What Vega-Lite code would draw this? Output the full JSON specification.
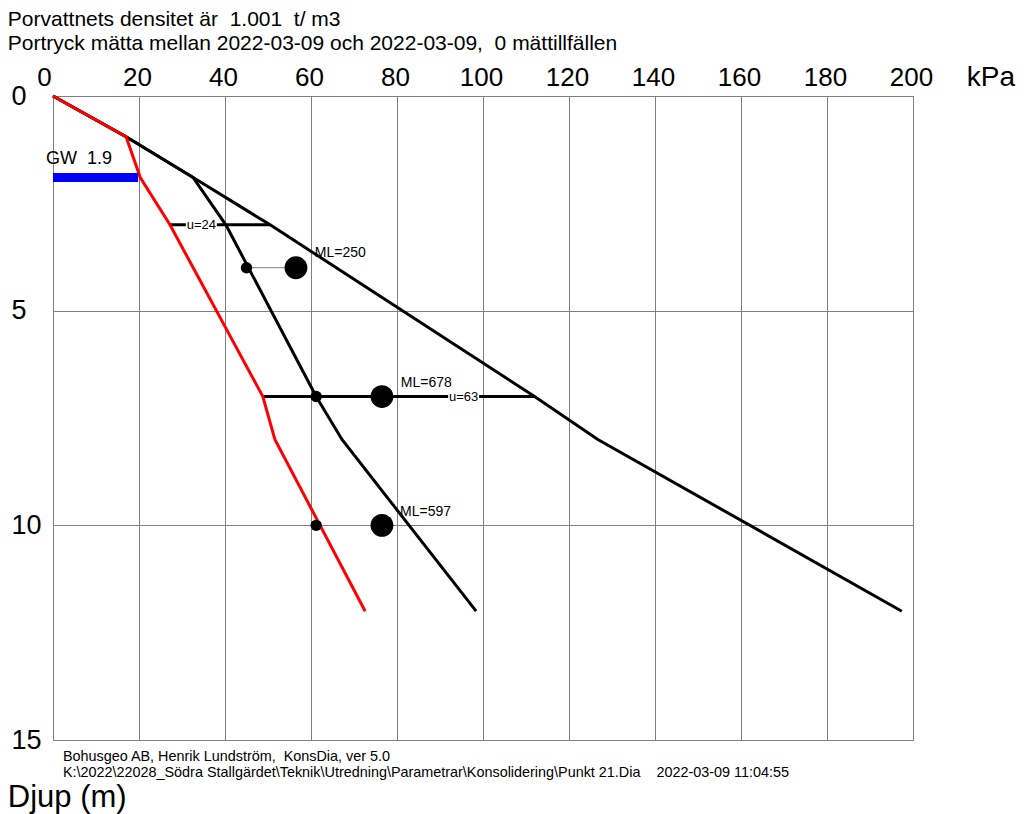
{
  "$schema": "https://vega.github.io/schema/vega-lite/v6.json",
  "width": 860,
  "height": 644,
  "autosize": {"type": "none"},
  "padding": {"left": 53, "top": 96, "right": 111, "bottom": 74},
  "background": "white",
  "config": {
    "view": {"stroke": "#808080", "strokeWidth": 1},
    "font": "Liberation Sans",
    "axis": {"gridColor": "#808080", "gridOpacity": 1, "gridWidth": 1, "domain": false, "ticks": false, "labelColor": "black", "labelFont": "Liberation Sans", "title": null}
  },
  "datasets": {
    "lines": [
      {"s": "b1", "o": 0, "kpa": 0, "d": 0},
      {"s": "b1", "o": 1, "kpa": 17, "d": 0.95},
      {"s": "b1", "o": 2, "kpa": 32.6, "d": 1.9},
      {"s": "b1", "o": 3, "kpa": 50.5, "d": 3},
      {"s": "b1", "o": 4, "kpa": 112, "d": 7},
      {"s": "b1", "o": 5, "kpa": 126.7, "d": 8},
      {"s": "b1", "o": 6, "kpa": 197.4, "d": 12},
      {"s": "b2", "o": 0, "kpa": 0, "d": 0},
      {"s": "b2", "o": 1, "kpa": 17, "d": 0.95},
      {"s": "b2", "o": 2, "kpa": 32.6, "d": 1.9},
      {"s": "b2", "o": 3, "kpa": 40.2, "d": 3},
      {"s": "b2", "o": 4, "kpa": 61.2, "d": 7},
      {"s": "b2", "o": 5, "kpa": 67.2, "d": 8},
      {"s": "b2", "o": 6, "kpa": 98.4, "d": 12},
      {"s": "u24", "o": 0, "kpa": 27.2, "d": 3},
      {"s": "u24", "o": 1, "kpa": 50.5, "d": 3},
      {"s": "u63", "o": 0, "kpa": 48.8, "d": 7},
      {"s": "u63", "o": 1, "kpa": 112, "d": 7}
    ],
    "red": [
      {"o": 0, "kpa": 0, "d": 0},
      {"o": 1, "kpa": 17, "d": 0.95},
      {"o": 2, "kpa": 20.3, "d": 1.9},
      {"o": 3, "kpa": 27.2, "d": 3},
      {"o": 4, "kpa": 48.8, "d": 7},
      {"o": 5, "kpa": 51.6, "d": 8},
      {"o": 6, "kpa": 72.6, "d": 12}
    ],
    "ulabels": [
      {"t": "u=24", "a": 30.9, "b": 38.1, "c": 34.5, "d": 3},
      {"t": "u=63", "a": 91.9, "b": 99.1, "c": 95.5, "d": 7}
    ],
    "smalldots": [
      {"kpa": 45, "d": 4},
      {"kpa": 61.2, "d": 7},
      {"kpa": 61.2, "d": 10}
    ],
    "bigdots": [
      {"kpa": 56.5, "d": 4},
      {"kpa": 76.5, "d": 7},
      {"kpa": 76.5, "d": 10}
    ],
    "ml": [
      {"t": "ML=250", "kpa": 60.9, "d": 3.66},
      {"t": "ML=678", "kpa": 80.9, "d": 6.69},
      {"t": "ML=597", "kpa": 80.7, "d": 9.69}
    ],
    "titles": [
      {"t": "Porvattnets densitet är \u00a01.001 \u00a0t/ m3", "x": -10.5, "y": -1.77},
      {"t": "Portryck mätta mellan 2022-03-09 och 2022-03-09, \u00a00 mättillfällen", "x": -10.5, "y": -1.21}
    ],
    "foot": [
      {"t": "Bohusgeo AB, Henrik Lundström, \u00a0KonsDia, ver 5.0", "x": 2.3, "y": 15.4},
      {"t": "K:\\2022\\22028_Södra Stallgärdet\\Teknik\\Utredning\\Parametrar\\Konsolidering\\Punkt 21.Dia \u00a0\u00a0\u00a02022-03-09 11:04:55", "x": 2.3, "y": 15.78}
    ]
  },
  "layer": [
    {
      "data": {"values": [{"a": 0, "b": 200, "d": 0}]},
      "mark": {"type": "rule", "opacity": 0},
      "encoding": {
        "x": {"field": "a", "type": "quantitative", "scale": {"domain": [0, 200], "nice": false, "zero": false},
          "axis": {"orient": "top", "values": [0, 20, 40, 60, 80, 100, 120, 140, 160, 180, 200], "labelFontSize": 26, "labelPadding": 6,
            "labelFlush": false, "labelOverlap": false,
            "labelOffset": {"condition": {"test": "datum.value == 0", "value": -9}, "value": -2}}},
        "x2": {"field": "b"},
        "y": {"field": "d", "type": "quantitative", "scale": {"domain": [0, 15], "reverse": true, "nice": false, "zero": false},
          "axis": {"orient": "left", "values": [0, 5, 10, 15], "labelFontSize": 27, "labelAlign": "left", "labelPadding": 42, "labelBaseline": "middle", "labelFlush": false, "labelOverlap": false}}
      }
    },
    {
      "data": {"values": [{"a": 45, "b": 56.5, "d": 4}]},
      "mark": {"type": "rule", "color": "#808080", "strokeWidth": 1},
      "encoding": {"x": {"field": "a", "type": "quantitative"}, "x2": {"field": "b"}, "y": {"field": "d", "type": "quantitative"}}
    },
    {
      "data": {"name": "lines"},
      "mark": {"type": "line", "color": "black", "strokeWidth": 3},
      "encoding": {
        "x": {"field": "kpa", "type": "quantitative"},
        "y": {"field": "d", "type": "quantitative"},
        "detail": {"field": "s"},
        "order": {"field": "o"}
      }
    },
    {
      "data": {"name": "ulabels"},
      "mark": {"type": "rule", "color": "white", "strokeWidth": 10},
      "encoding": {"x": {"field": "a", "type": "quantitative"}, "x2": {"field": "b"}, "y": {"field": "d", "type": "quantitative"}}
    },
    {
      "data": {"name": "ulabels"},
      "mark": {"type": "text", "fontSize": 13, "color": "black", "align": "center", "baseline": "middle"},
      "encoding": {"x": {"field": "c", "type": "quantitative"}, "y": {"field": "d", "type": "quantitative"}, "text": {"field": "t"}}
    },
    {
      "data": {"name": "red"},
      "mark": {"type": "line", "color": "#ff0000", "strokeWidth": 3},
      "encoding": {
        "x": {"field": "kpa", "type": "quantitative"},
        "y": {"field": "d", "type": "quantitative"},
        "order": {"field": "o"}
      }
    },
    {
      "data": {"name": "smalldots"},
      "mark": {"type": "circle", "color": "black", "opacity": 1, "size": 130},
      "encoding": {"x": {"field": "kpa", "type": "quantitative"}, "y": {"field": "d", "type": "quantitative"}}
    },
    {
      "data": {"name": "bigdots"},
      "mark": {"type": "circle", "color": "black", "opacity": 1, "size": 520},
      "encoding": {"x": {"field": "kpa", "type": "quantitative"}, "y": {"field": "d", "type": "quantitative"}}
    },
    {
      "data": {"name": "ml"},
      "mark": {"type": "text", "fontSize": 14, "color": "black", "align": "left", "baseline": "middle"},
      "encoding": {"x": {"field": "kpa", "type": "quantitative"}, "y": {"field": "d", "type": "quantitative"}, "text": {"field": "t"}}
    },
    {
      "data": {"values": [{"a": 0, "b": 19.8, "d": 1.9}]},
      "mark": {"type": "rule", "color": "#0000ff", "strokeWidth": 9},
      "encoding": {"x": {"field": "a", "type": "quantitative"}, "x2": {"field": "b"}, "y": {"field": "d", "type": "quantitative"}}
    },
    {
      "data": {"values": [{"t": "GW \u00a01.9", "x": -1.6, "y": 1.47}]},
      "mark": {"type": "text", "fontSize": 18, "color": "black", "align": "left", "baseline": "middle"},
      "encoding": {"x": {"field": "x", "type": "quantitative"}, "y": {"field": "y", "type": "quantitative"}, "text": {"field": "t"}}
    },
    {
      "data": {"values": [{"t": "kPa", "x": 212.5, "y": -0.42}]},
      "mark": {"type": "text", "fontSize": 28, "color": "black", "align": "left", "baseline": "middle"},
      "encoding": {"x": {"field": "x", "type": "quantitative"}, "y": {"field": "y", "type": "quantitative"}, "text": {"field": "t"}}
    },
    {
      "data": {"values": [{"t": "Djup (m)", "x": -10.5, "y": 16.35}]},
      "mark": {"type": "text", "fontSize": 31, "color": "black", "align": "left", "baseline": "middle"},
      "encoding": {"x": {"field": "x", "type": "quantitative"}, "y": {"field": "y", "type": "quantitative"}, "text": {"field": "t"}}
    },
    {
      "data": {"name": "titles"},
      "mark": {"type": "text", "fontSize": 21, "color": "black", "align": "left", "baseline": "middle"},
      "encoding": {"x": {"field": "x", "type": "quantitative"}, "y": {"field": "y", "type": "quantitative"}, "text": {"field": "t"}}
    },
    {
      "data": {"name": "foot"},
      "mark": {"type": "text", "fontSize": 14.4, "color": "black", "align": "left", "baseline": "middle"},
      "encoding": {"x": {"field": "x", "type": "quantitative"}, "y": {"field": "y", "type": "quantitative"}, "text": {"field": "t"}}
    }
  ]
}
